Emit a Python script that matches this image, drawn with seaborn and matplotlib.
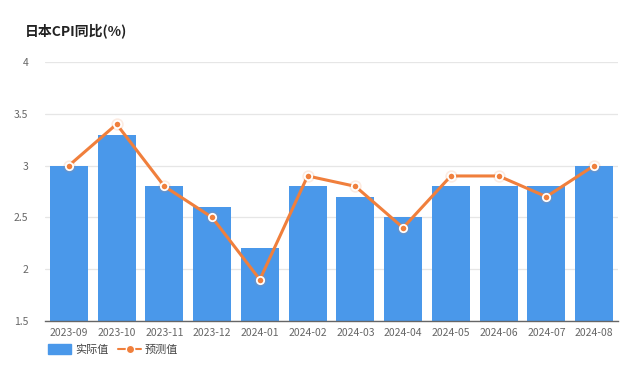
import matplotlib
matplotlib.use("Agg")
import matplotlib.pyplot as plt
import seaborn as sns
import pandas as pd
from matplotlib.lines import Line2D
from matplotlib.patches import FancyBboxPatch, Patch

months = ["2023-09", "2023-10", "2023-11", "2023-12", "2024-01", "2024-02",
          "2024-03", "2024-04", "2024-05", "2024-06", "2024-07", "2024-08"]
actual = [3.0, 3.3, 2.8, 2.6, 2.2, 2.8, 2.7, 2.5, 2.8, 2.8, 2.8, 3.0]
forecast = [3.0, 3.4, 2.8, 2.5, 1.9, 2.9, 2.8, 2.4, 2.9, 2.9, 2.7, 3.0]
yticks = [1.5, 2, 2.5, 3, 3.5, 4]
ytick_labels = ["1.5", "2", "2.5", "3", "3.5", "4"]

sns.set_theme(style="white")
plt.rcParams['font.family'] = ['Noto Sans CJK SC', 'DejaVu Sans']

df = pd.DataFrame({"month": months, "actual": actual, "forecast": forecast})

fig = plt.figure(figsize=(6.4, 3.69), dpi=100)
ax = fig.add_axes([0.0703, 0.130, 0.8953, 0.702])

bar_color = "#4a98ea"
line_color = "#f07f3c"

sns.barplot(data=df, x="month", y="actual", color=bar_color, width=0.8,
            saturation=1, ax=ax, zorder=2, linewidth=0, edgecolor="none")
ax.plot(range(len(months)), forecast, color=line_color, lw=2.2, zorder=3)
ax.scatter(range(len(months)), forecast, s=80, color=line_color, alpha=0.15,
           zorder=4, linewidths=0)
ax.scatter(range(len(months)), forecast, s=28, color=line_color,
           edgecolors="white", linewidths=1.3, zorder=5)

ax.set_ylim(1.5, 4)
ax.set_xlim(-0.5, len(months) - 0.5)
ax.set_yticks(yticks)
ax.set_yticklabels(ytick_labels)
ax.yaxis.grid(True, color="#e6e6e6", lw=0.9, zorder=0)
ax.set_axisbelow(True)
ax.set_xlabel("")
ax.set_ylabel("")
for s in ["top", "right", "left"]:
    ax.spines[s].set_visible(False)
ax.spines["bottom"].set_color("#666666")
ax.spines["bottom"].set_linewidth(1)
ax.tick_params(axis="y", length=0, labelsize=7.5, colors="#666666", pad=12)
ax.tick_params(axis="x", length=0, labelsize=7.5, colors="#666666", pad=5)

fig.text(0.039, 0.918, "日本CPI同比(%)", fontsize=10, fontweight="bold",
         color="#222222", va="center", ha="left")

handles = [Patch(facecolor=bar_color, edgecolor=bar_color, label="实际值"),
           Line2D([0], [0], color=line_color, lw=1.5, marker="o", markersize=6,
                  markerfacecolor=line_color, markeredgecolor="white",
                  label="预测值")]
fig.legend(handles=handles, loc="center left", bbox_to_anchor=(0.06, 0.052),
           ncol=2, frameon=False, fontsize=8, handlelength=2.0,
           handleheight=1.0, columnspacing=0.9, handletextpad=0.4,
           labelcolor="#444444")

fig.savefig("out.png", dpi=100, facecolor="white")
